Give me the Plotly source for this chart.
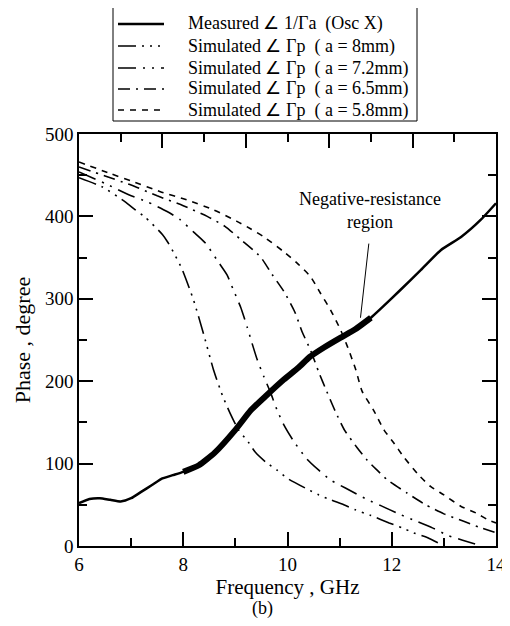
import plotly.graph_objects as go

# ---------------- data ----------------
freq_meas = [6.0, 6.2, 6.4, 6.6, 6.8, 7.0, 7.2, 7.4, 7.6, 7.8, 8.0, 8.3, 8.6, 9.0, 9.3,
             9.6, 9.93, 10.2, 10.44, 10.7, 11.02, 11.3, 11.6, 11.79, 12.17, 12.56,
             12.94, 13.33, 13.71, 14.0]
phase_meas = [52, 57, 58, 56, 54, 58, 66, 74, 82, 86, 90, 98, 113, 141, 165,
              183, 202, 216, 230, 241, 253, 263, 277, 288, 311, 335,
              359, 375, 396, 416]
neg_res_range = [8.0, 11.65]

freq_a80 = [6.0, 6.44, 6.88, 7.08, 7.27, 7.6, 7.71, 7.85, 7.97, 8.2, 8.4, 8.58, 8.75,
            8.9, 9.06, 9.25, 9.38, 9.58, 9.8, 10.0, 10.38, 10.6, 10.83, 11.08, 11.3,
            11.6, 11.95, 12.2, 12.42, 12.69, 13.0]
phase_a80 = [447, 436, 418, 408, 399, 378, 368, 352, 337, 298, 255, 214, 183,
             161, 141, 126, 114, 102, 92, 82, 69, 62, 56, 50, 44,
             37, 28, 22, 16, 10, 0]

freq_a72 = [6.0, 6.5, 7.0, 7.3, 7.69, 7.94, 8.2, 8.42, 8.67, 8.84, 8.96, 9.1, 9.23,
            9.32, 9.42, 9.55, 9.67, 9.8, 9.93, 10.12, 10.38, 10.6, 10.83, 11.12,
            11.54, 11.79, 12.1, 12.4, 12.78, 13.07, 13.36, 13.67]
phase_a72 = [454, 440, 425, 418, 406, 396, 381, 368, 345, 329, 311, 290, 265,
             246, 226, 205, 187, 165, 147, 127, 105, 92, 80, 70,
             56, 49, 40, 32, 22, 13, 7, 1]

freq_a65 = [6.0, 6.5, 7.0, 7.5, 8.0, 8.46, 8.8, 9.1, 9.48, 9.7, 9.93, 10.14, 10.28,
            10.44, 10.6, 10.75, 10.92, 11.1, 11.34, 11.53, 11.72, 11.92, 12.3,
            12.65, 13.0, 13.38, 13.67, 14.0]
phase_a65 = [460, 449, 438, 425, 413, 400, 388, 372, 351, 330, 309, 284, 260,
             238, 211, 188, 163, 140, 119, 104, 92, 80, 64,
             50, 39, 30, 23, 16]

freq_a58 = [6.0, 6.6, 7.04, 7.56, 8.07, 8.58, 9.03, 9.29, 9.55, 9.93, 10.19, 10.44,
            10.63, 10.83, 11.02, 11.15, 11.31, 11.43, 11.65, 11.85, 12.04, 12.23,
            12.52, 12.75, 13.0, 13.33, 13.62, 13.84, 14.0]
phase_a58 = [466, 452, 442, 430, 420, 408, 394, 385, 375, 357, 343, 327,
             307, 286, 262, 242, 214, 188, 165, 141, 125, 108,
             86, 72, 62, 48, 40, 32, 28]

legend_labels = [
    "Measured \u2220 1/\u0393a  (Osc X)",
    "Simulated \u2220 \u0393p  ( a = 8mm)",
    "Simulated \u2220 \u0393p  ( a = 7.2mm)",
    "Simulated \u2220 \u0393p  ( a = 6.5mm)",
    "Simulated \u2220 \u0393p  ( a = 5.8mm)",
]

note_text = "Negative-resistance<br>region"
note_pos = [11.59, 407]
note_line_freq = [11.56, 11.40]
note_line_phase = [367, 277]

x_ticks = [6, 8, 10, 12, 14]
y_ticks = [0, 100, 200, 300, 400, 500]

# ---------------- figure ----------------
SERIF = "Liberation Serif, Times New Roman, serif"
OFF = 8                      # default page body margin of the html page
WIN_W, WIN_H = 510, 626
W, H = WIN_W - OFF, WIN_H - 2 * OFF
# plot area in window pixels: x 79..496, y 134..546
ML, MT = 79 - OFF, 134 - OFF
MR = W - (496 - OFF)
MB = H - (546 - OFF)
PW, PH = W - ML - MR, H - MT - MB


def px2paper(px, py):
    """window pixel -> paper coordinates"""
    return (px - OFF - ML) / PW, (H - MB - (py - OFF)) / PH


fig = go.Figure()

fig.add_trace(go.Scatter(
    x=freq_meas, y=phase_meas, mode="lines", showlegend=False,
    line=dict(color="black", width=2.5, shape="spline", smoothing=0.5)))

thick_x = [f for f in freq_meas if neg_res_range[0] <= f <= neg_res_range[1]]
thick_y = [p for f, p in zip(freq_meas, phase_meas) if neg_res_range[0] <= f <= neg_res_range[1]]
fig.add_trace(go.Scatter(
    x=thick_x, y=thick_y, mode="lines", showlegend=False,
    line=dict(color="black", width=6, shape="spline", smoothing=0.5)))

sim_dashes = [
    "18px,6px,2px,6px,2px,6px,2px,6px",
    "18px,7px,2px,7px,2px,7px",
    "12px,6px,2px,6px",
    "6px,6px",
]
sims = [(freq_a80, phase_a80), (freq_a72, phase_a72),
        (freq_a65, phase_a65), (freq_a58, phase_a58)]
for (fx, py), dash in zip(sims, sim_dashes):
    fig.add_trace(go.Scatter(
        x=fx, y=py, mode="lines", showlegend=False,
        line=dict(color="black", width=1.6, dash=dash, shape="spline", smoothing=0.6)))

# annotation pointer line
fig.add_trace(go.Scatter(
    x=note_line_freq, y=note_line_phase, mode="lines", showlegend=False,
    line=dict(color="black", width=1)))

# invisible trace for the top axis
fig.add_trace(go.Scatter(x=[], y=[], xaxis="x2", showlegend=False))

fig.add_annotation(
    x=note_pos[0], y=note_pos[1], text=note_text, showarrow=False,
    font=dict(family=SERIF, size=18, color="black"), align="center")

# ---- manual legend box (layout positions) ----
bx0, by0 = px2paper(113, 7)
bx1, by1 = px2paper(417, 121)
shapes = [dict(type="rect", xref="paper", yref="paper", x0=bx0, y0=by1, x1=bx1, y1=by0,
               line=dict(color="black", width=1), fillcolor="white", layer="above")]
row_py = [24, 46, 68, 89, 110]
legend_dashes = ["solid"] + sim_dashes
legend_widths = [2.5, 1.4, 1.4, 1.4, 1.4]
annotations = []
for lab, rpy, dsh, lw in zip(legend_labels, row_py, legend_dashes, legend_widths):
    sx0, sy = px2paper(118, rpy)
    sx1, _ = px2paper(164, rpy)
    shapes.append(dict(type="line", xref="paper", yref="paper", x0=sx0, x1=sx1, y0=sy, y1=sy,
                       line=dict(color="black", width=lw, dash=dsh), layer="above"))
    tx, _ = px2paper(186, rpy)
    annotations.append(dict(x=tx, y=sy, xref="paper", yref="paper", text=lab,
                            showarrow=False, xanchor="left", yanchor="middle",
                            font=dict(family=SERIF, size=18, color="black")))
bx, bby = px2paper(262, 608)
annotations.append(dict(x=bx, y=bby, xref="paper", yref="paper", text="(b)",
                        showarrow=False, xanchor="center", yanchor="middle",
                        font=dict(family=SERIF, size=18, color="black")))
for a in annotations:
    fig.add_annotation(**a)

axis_common = dict(
    showline=True, linecolor="black", linewidth=1.5,
    ticks="inside", tickcolor="black", tickwidth=1.5, ticklen=14,
    showgrid=False, zeroline=False, automargin=False,
    tickfont=dict(family=SERIF, size=19, color="black"),
)

fig.update_layout(
    width=W, height=H,
    margin=dict(l=ML, r=MR, t=MT, b=MB, autoexpand=False),
    paper_bgcolor="white", plot_bgcolor="white",
    font=dict(family=SERIF, color="black"),
    shapes=shapes,
    xaxis=dict(
        range=[6, 14], tickvals=x_ticks, mirror=True,
        minor=dict(dtick=1, tick0=6, ticks="inside", ticklen=8, tickcolor="black", tickwidth=1.5),
        title=dict(text="Frequency , GHz", font=dict(family=SERIF, size=21), standoff=0),
        **axis_common),
    xaxis2=dict(
        range=[6, 14], overlaying="x", side="top", anchor="y",
        tick0=6, dtick=1.6, showticklabels=False,
        ticks="inside", tickcolor="black", tickwidth=1.5, ticklen=14,
        minor=dict(tick0=6.8, dtick=1.6, ticks="inside", ticklen=8, tickcolor="black", tickwidth=1.5),
        showgrid=False, zeroline=False, showline=False, automargin=False),
    yaxis=dict(
        range=[0, 500], tickvals=y_ticks, mirror="ticks",
        minor=dict(dtick=50, tick0=0, ticks="inside", ticklen=8, tickcolor="black", tickwidth=1.5),
        title=dict(text="Phase , degree", font=dict(family=SERIF, size=22), standoff=8),
        **axis_common),
    showlegend=False,
)

fig.write_html("out.html")
